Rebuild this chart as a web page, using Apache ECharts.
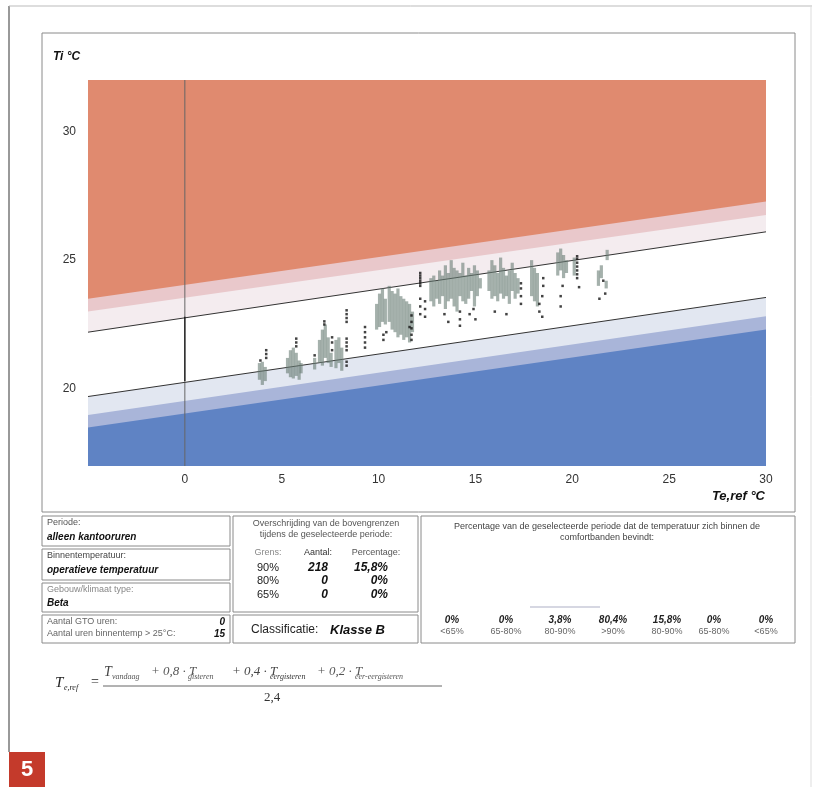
<!DOCTYPE html>
<html>
<head>
<meta charset="utf-8">
<script src="https://cdn.jsdelivr.net/npm/echarts@6/dist/echarts.min.js"></script>
<style>
  html, body { margin: 0; padding: 0; background: #fff; }
  #main { width: 817px; height: 787px; }
</style>
</head>
<body>
<div id="main"></div>
<script>
// comfortbanden: waarde bij Te,ref = -5 en Te,ref = 30
var xEnds = [-5, 30];
var bandTop = [32, 32];
var grensRood = [23.5, 27.28];      // rood -> roze
var grensRoze = [23.0, 26.75];      // roze -> licht
var lijnBoven = [22.2, 26.1];       // bovengrens 90%
var lijnOnder = [19.7, 23.55];      // ondergrens 90%
var grensLichtblauw = [18.98, 22.82];
var grensBlauw = [18.5, 22.3];

// uurwaarden per dag: [Te,ref, Ti laag, Ti hoog]
var kolommen = [
  [3.85,20.35,21.0],[4.0,20.15,21.05],[4.15,20.3,20.85],
  [5.3,20.6,21.2],[5.45,20.45,21.5],[5.6,20.4,21.6],[5.75,20.5,21.4],[5.9,20.35,21.1],[6.0,20.6,21.0],
  [6.7,20.75,21.2],
  [6.95,21.0,21.9],[7.1,20.9,22.3],[7.25,21.2,22.5],[7.4,21.0,22.0],[7.55,20.85,21.4],
  [7.8,20.8,21.9],[7.95,21.0,22.0],[8.1,20.7,21.6],
  [9.9,22.3,23.3],[10.05,22.4,23.7],[10.2,22.6,23.9],[10.35,22.5,23.5],
  [10.55,22.6,24.0],[10.7,22.3,23.8],[10.85,22.2,23.7],[11.0,22.0,23.9],[11.15,22.1,23.6],
  [11.3,21.9,23.5],[11.45,22.0,23.4],[11.6,21.8,23.3],[11.75,22.2,23.0],
  [12.7,23.4,24.3],[12.85,23.2,24.4],[13.0,23.5,24.2],[13.15,23.3,24.6],[13.3,23.6,24.4],
  [13.45,23.1,24.8],[13.6,23.4,24.5],[13.75,23.5,25.0],[13.9,23.2,24.7],[14.05,23.0,24.6],
  [14.2,23.6,24.5],[14.35,23.4,24.9],[14.5,23.3,24.4],[14.65,23.5,24.7],[14.8,23.8,24.5],
  [14.95,23.2,24.8],[15.1,23.6,24.6],[15.25,23.9,24.3],
  [15.7,23.8,24.6],[15.85,23.5,25.0],[16.0,23.6,24.8],[16.15,23.4,24.5],[16.3,23.7,25.1],
  [16.45,23.5,24.7],[16.6,23.6,24.4],[16.75,23.3,24.6],[16.9,23.8,24.9],[17.05,23.5,24.5],[17.2,23.7,24.3],
  [17.9,23.6,25.0],[18.05,23.4,24.7],[18.2,23.2,24.5],
  [19.25,24.4,25.3],[19.4,24.6,25.45],[19.55,24.3,25.2],[19.7,24.5,25.0],[20.1,24.4,25.1],
  [21.35,24.0,24.6],[21.5,24.3,24.8],[21.75,23.9,24.2],[21.8,25.0,25.4]
];

// losse uren
var losseUren = [
  [3.9,21.1],[4.2,21.2],[4.2,21.35],[4.2,21.5],
  [5.75,21.65],[5.75,21.8],[5.75,21.95],[6.7,21.3],
  [7.2,22.5],[7.2,22.62],[7.6,21.5],[7.6,21.8],[7.6,22.0],
  [8.35,22.6],[8.35,22.75],[8.35,22.9],[8.35,23.05],[8.35,21.5],[8.35,21.65],[8.35,21.8],[8.35,21.95],[8.35,20.9],[8.35,21.05],
  [9.3,21.6],[9.3,21.8],[9.3,22.0],[9.3,22.2],[9.3,22.4],
  [10.25,21.9],[10.25,22.1],[10.4,22.2],
  [11.7,21.9],[11.7,22.1],[11.7,22.35],[11.7,22.6],[11.7,22.85],[11.6,22.4],
  [12.15,24.0],[12.15,24.1],[12.15,24.2],[12.15,24.3],[12.15,24.4],[12.15,24.5],[12.15,23.5],[12.15,23.2],[12.15,22.9],
  [12.4,23.4],[12.4,23.1],[12.4,22.8],
  [13.4,22.9],[13.6,22.6],[14.2,23.0],[14.2,22.7],[14.2,22.45],[14.7,22.9],[14.9,23.1],[15.0,22.7],
  [16.0,23.0],[16.6,22.9],[17.35,23.3],[17.35,23.6],[17.35,23.9],[17.35,24.1],
  [18.3,23.0],[18.3,23.3],[18.45,22.8],[18.45,23.6],[18.5,24.0],[18.5,24.3],
  [19.4,23.2],[19.4,23.6],[19.5,24.0],
  [20.25,24.3],[20.25,24.45],[20.25,24.6],[20.25,24.75],[20.25,24.9],[20.25,25.05],[20.25,25.15],[20.35,23.95],
  [21.4,23.5],[21.7,23.7],[21.6,24.2]
];

// tabel
var grenzen = ['90%', '80%', '65%'];
var aantallen = ['218', '0', '0'];
var percentages = ['15,8%', '0%', '0%'];
var bandLabels = ['<65%', '65-80%', '80-90%', '>90%', '80-90%', '65-80%', '<65%'];
var bandWaarden = ['0%', '0%', '3,8%', '80,4%', '15,8%', '0%', '0%'];

var FONT = '"Liberation Sans", Arial, sans-serif';
var SERIF = '"Liberation Serif", "Times New Roman", serif';

function pairs(v) { return [[xEnds[0], v[0]], [xEnds[1], v[1]]]; }

function band(name, v, color) {
  return {
    name: name, type: 'line', data: pairs(v), symbol: 'none', silent: true,
    lineStyle: { width: 0 }, areaStyle: { color: color, opacity: 1, origin: 'start' }
  };
}
function lijn(v, color, w) {
  return {
    type: 'line', data: pairs(v), symbol: 'none', silent: true, z: 5,
    lineStyle: { width: w, color: color }
  };
}

function txt(x, y, s, font, fill, align) {
  return { type: 'text', x: x, y: y, silent: true, z: 10,
    style: { text: s, font: font, fill: fill || '#222', textAlign: align || 'left', textVerticalAlign: 'middle' } };
}
function box(x, y, w, h) {
  return { type: 'rect', shape: { x: x, y: y, width: w, height: h }, silent: true,
    style: { fill: 'none', stroke: '#8a8a8a', lineWidth: 1 } };
}
function hline(x1, x2, y, color, w) {
  return { type: 'line', shape: { x1: x1, y1: y, x2: x2, y2: y }, silent: true,
    style: { stroke: color, lineWidth: w || 1 } };
}

var graphics = [
  // pagina
  { type: 'line', shape: { x1: 9, y1: 6, x2: 9, y2: 752 }, style: { stroke: '#555', lineWidth: 1.2 } },
  hline(9, 812, 6, '#bbb', 1),
  { type: 'line', shape: { x1: 811, y1: 6, x2: 811, y2: 787 }, style: { stroke: '#ddd', lineWidth: 1 } },
  { type: 'rect', shape: { x: 9, y: 752, width: 36, height: 35 }, style: { fill: '#c43a2b' } },
  txt(27, 770, '5', 'bold 22px ' + FONT, '#fff', 'center'),
  // grafiekkader
  box(42, 33, 753, 479),
  txt(53, 57, 'Ti °C', 'bold italic 12px ' + FONT, '#111'),
  txt(765, 496, 'Te,ref °C', 'bold italic 13px ' + FONT, '#111', 'right'),
  // tabellen
  box(42, 516, 188, 30), box(42, 549, 188, 31), box(42, 583, 188, 29), box(42, 615, 188, 28),
  box(233, 516, 185, 96), box(233, 615, 185, 28), box(421, 516, 374, 127),
  txt(47, 523, 'Periode:', '9px ' + FONT, '#555'),
  txt(47, 537, 'alleen kantooruren', 'bold italic 10px ' + FONT, '#111'),
  txt(47, 556, 'Binnentemperatuur:', '9px ' + FONT, '#444'),
  txt(47, 570, 'operatieve temperatuur', 'bold italic 10px ' + FONT, '#111'),
  txt(47, 590, 'Gebouw/klimaat type:', '9px ' + FONT, '#888'),
  txt(47, 603, 'Beta', 'bold italic 10px ' + FONT, '#111'),
  txt(47, 622, 'Aantal GTO uren:', '9px ' + FONT, '#666'),
  txt(47, 634, 'Aantal uren binnentemp > 25°C:', '9px ' + FONT, '#666'),
  txt(225, 622, '0', 'bold italic 10px ' + FONT, '#111', 'right'),
  txt(225, 634, '15', 'bold italic 10px ' + FONT, '#111', 'right'),
  txt(326, 524, 'Overschrijding van de bovengrenzen', '9px ' + FONT, '#555', 'center'),
  txt(326, 535, 'tijdens de geselecteerde periode:', '9px ' + FONT, '#555', 'center'),
  txt(268, 553, 'Grens:', '9px ' + FONT, '#888', 'center'),
  txt(318, 553, 'Aantal:', '9px ' + FONT, '#333', 'center'),
  txt(376, 553, 'Percentage:', '9px ' + FONT, '#555', 'center'),
  txt(325, 630, 'Classificatie:  ', '12px ' + FONT, '#222', 'right'),
  txt(330, 630, 'Klasse B', 'bold italic 13px ' + FONT, '#111', 'left'),
  txt(607, 527, 'Percentage van de geselecteerde periode dat de temperatuur zich binnen de', '9px ' + FONT, '#444', 'center'),
  txt(607, 538, 'comfortbanden bevindt:', '9px ' + FONT, '#444', 'center'),
  hline(530, 600, 607, '#c8cad8', 1.5),
  // formule
  txt(55, 683, 'T', 'italic 15px ' + SERIF, '#222'),
  txt(64, 688, 'e,ref', 'italic 8px ' + SERIF, '#222'),
  txt(91, 682, '=', '14px ' + SERIF, '#222'),
  txt(104, 672, 'T', 'italic 14px ' + SERIF, '#444'),
  txt(112, 677, 'vandaag', 'italic 8px ' + SERIF, '#555'),
  txt(151, 672, '+ 0,8 · T', 'italic 13px ' + SERIF, '#555'),
  txt(188, 677, 'gisteren', 'italic 8px ' + SERIF, '#555'),
  txt(232, 672, '+ 0,4 · T', 'italic 13px ' + SERIF, '#444'),
  txt(270, 677, 'eergisteren', 'italic 8px ' + SERIF, '#333'),
  txt(317, 672, '+ 0,2 · T', 'italic 13px ' + SERIF, '#555'),
  txt(355, 677, 'eer-eergisteren', 'italic 8px ' + SERIF, '#555'),
  hline(103, 442, 686, '#666', 1),
  txt(272, 698, '2,4', '13px ' + SERIF, '#333', 'center')
];

var rijY = [568, 581, 595];
for (var i = 0; i < grenzen.length; i++) {
  graphics.push(txt(268, rijY[i], grenzen[i], '11px ' + FONT, '#222', 'center'));
  graphics.push(txt(328, rijY[i], aantallen[i], 'bold italic 12px ' + FONT, '#111', 'right'));
  graphics.push(txt(388, rijY[i], percentages[i], 'bold italic 12px ' + FONT, '#111', 'right'));
}
var bandX = [452, 506, 560, 613, 667, 714, 766];
for (var j = 0; j < bandLabels.length; j++) {
  graphics.push(txt(bandX[j], 620, bandWaarden[j], 'bold italic 10px ' + FONT, '#222', 'center'));
  graphics.push(txt(bandX[j], 632, bandLabels[j], '9px ' + FONT, '#666', 'center'));
}

var chart = echarts.init(document.getElementById('main'));
chart.setOption({
  animation: false,
  backgroundColor: '#fff',
  grid: { left: 88, right: 51, top: 80, bottom: 321 },
  xAxis: {
    type: 'value', min: -5, max: 30, interval: 5,
    axisLine: { show: false }, axisTick: { show: false }, splitLine: { show: false },
    axisLabel: {
      color: '#333', fontSize: 12, fontFamily: FONT, margin: 8,
      formatter: function (v) { return v < 0 ? '' : String(v); }
    }
  },
  yAxis: {
    type: 'value', min: 17, max: 32, interval: 1,
    axisLine: { show: false }, axisTick: { show: false }, splitLine: { show: false },
    axisLabel: {
      color: '#333', fontSize: 12, fontFamily: FONT, margin: 12,
      formatter: function (v) { return v % 5 === 0 ? String(v) : ''; }
    }
  },
  graphic: graphics,
  series: [
    band('rood', bandTop, '#e08a6f'),
    band('roze', grensRood, '#e9c8cb'),
    band('licht', grensRoze, '#f4ecef'),
    band('wit', lijnBoven, '#ffffff'),
    band('lichtblauw', lijnOnder, '#e2e7f1'),
    band('middenblauw', grensLichtblauw, '#a9b5d9'),
    band('blauw', grensBlauw, '#5f83c4'),
    lijn(lijnBoven, '#333', 1),
    lijn(lijnOnder, '#333', 1),
    {
      type: 'line', data: [[0, 17], [0, 32]], symbol: 'none', silent: true, z: 4,
      lineStyle: { color: '#666', width: 1 }
    },
    {
      type: 'line', data: [[0, 20.3], [0, 22.8]], symbol: 'none', silent: true, z: 6,
      lineStyle: { color: '#111', width: 1.2 }
    },
    {
      type: 'custom', z: 7, silent: true,
      encode: { x: 0, y: [1, 2] },
      data: kolommen,
      renderItem: function (params, api) {
        var hoog = api.coord([api.value(0), api.value(2)]);
        var laag = api.coord([api.value(0), api.value(1)]);
        return {
          type: 'rect',
          shape: { x: hoog[0] - 1.6, y: hoog[1], width: 3.2, height: laag[1] - hoog[1] },
          style: { fill: 'rgba(105,125,117,0.6)' }
        };
      }
    },
    {
      type: 'scatter', z: 8, silent: true, data: losseUren,
      symbol: 'rect', symbolSize: [2.5, 2.5],
      itemStyle: { color: '#141414' }
    }
  ]
});
</script>
</body>
</html>
